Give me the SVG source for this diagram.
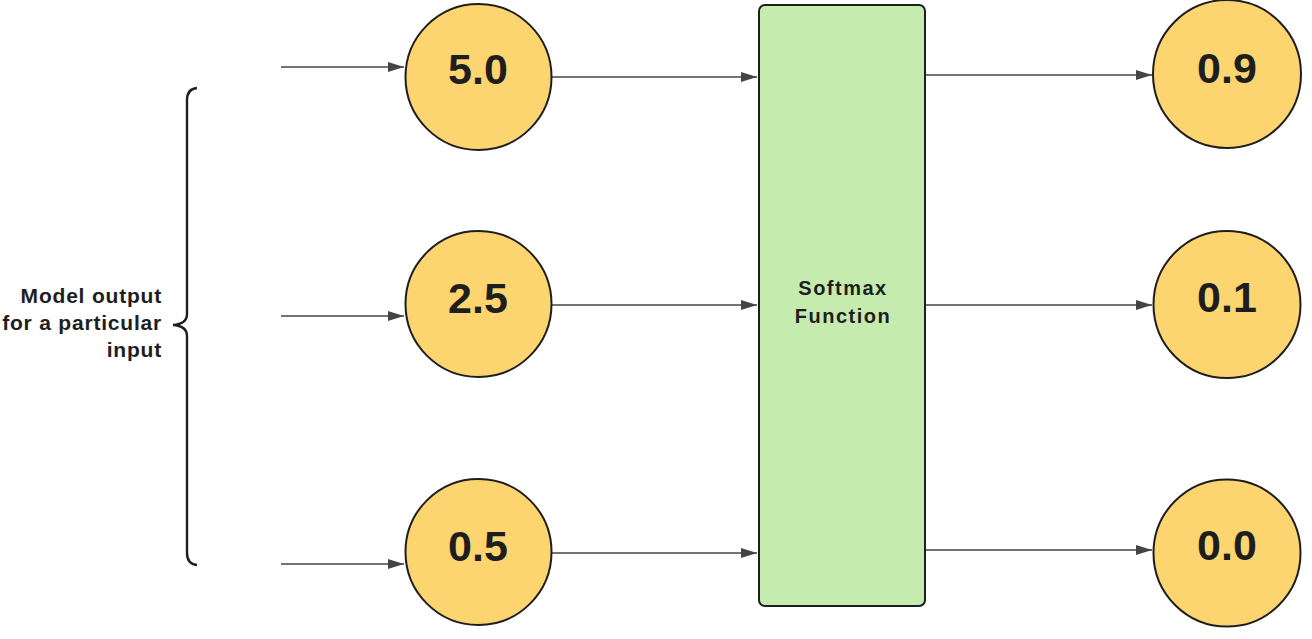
<svg xmlns="http://www.w3.org/2000/svg" width="1312" height="639" viewBox="0 0 1312 639">
<style>
.node circle{fill:#fcd570;stroke:#1e1e1e;stroke-width:2}
.num{font-family:"Liberation Sans",Arial,sans-serif;font-weight:bold;font-size:43px;fill:#1e1e1e;text-anchor:middle}
.lbl{font-family:"Liberation Sans",Arial,sans-serif;font-weight:bold;font-size:20px;fill:#1e1e1e;text-anchor:middle;letter-spacing:1.5px}
.side{font-family:"Liberation Sans",Arial,sans-serif;font-weight:bold;font-size:21px;fill:#1e1e1e;text-anchor:end;letter-spacing:0.8px}
.conn line{stroke:#444;stroke-width:1.6;marker-end:url(#ah)}
</style>
<defs>
<marker id="ah" viewBox="0 0 16 10" refX="16" refY="5" markerWidth="16" markerHeight="10" markerUnits="userSpaceOnUse" orient="auto">
<path d="M0,0 L16,5 L0,10 Z" fill="#444"/>
</marker>
</defs>
<rect width="1312" height="639" fill="#fff"/>
<g id="brace">
<path d="M197,88 Q187,89 187,100 L187,314 Q187,324 173,325 Q187,326 187,336 L187,553 Q187,564 197,565" fill="none" stroke="#1e1e1e" stroke-width="2.4"/>
<text class="side" x="162" y="303">Model output</text>
<text class="side" x="162" y="330">for a particular</text>
<text class="side" x="162" y="357">input</text>
</g>
<g class="conn" id="connectors">
<line x1="281" y1="67" x2="404" y2="67"/>
<line x1="281" y1="316" x2="404" y2="316"/>
<line x1="281" y1="564" x2="404" y2="564"/>
<line x1="552" y1="77" x2="757" y2="77"/>
<line x1="552" y1="305" x2="757" y2="305"/>
<line x1="552" y1="553" x2="757" y2="553"/>
<line x1="925" y1="75" x2="1152" y2="75"/>
<line x1="925" y1="305" x2="1152" y2="305"/>
<line x1="925" y1="550" x2="1152" y2="550"/>
</g>
<g id="softmax">
<rect x="759" y="5" width="166" height="601" rx="6" fill="#c6ebaf" stroke="#1e1e1e" stroke-width="2"/>
<text class="lbl" x="843" y="295">Softmax</text>
<text class="lbl" x="843" y="323">Function</text>
</g>
<g class="node" id="in1"><circle cx="478.5" cy="77" r="73"/><text class="num" x="478" y="84">5.0</text></g>
<g class="node" id="in2"><circle cx="478.5" cy="304" r="73"/><text class="num" x="478" y="313">2.5</text></g>
<g class="node" id="in3"><circle cx="478.5" cy="552" r="73"/><text class="num" x="478" y="561">0.5</text></g>
<g class="node" id="out1"><circle cx="1227" cy="74" r="74"/><text class="num" x="1227" y="83">0.9</text></g>
<g class="node" id="out2"><circle cx="1227" cy="304.5" r="73.5"/><text class="num" x="1227" y="312">0.1</text></g>
<g class="node" id="out3"><circle cx="1227" cy="553" r="73.5"/><text class="num" x="1227" y="560">0.0</text></g>
</svg>
